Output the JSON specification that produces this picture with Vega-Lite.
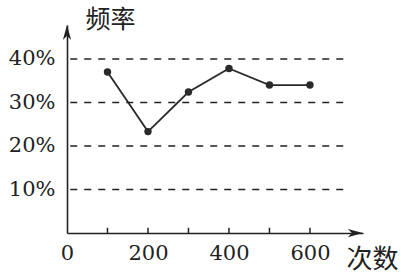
{
  "$schema": "https://vega.github.io/schema/vega-lite/v6.json",
  "width": 296,
  "height": 208,
  "padding": {"left": 67, "top": 25, "right": 38, "bottom": 42},
  "autosize": {"type": "none"},
  "background": "white",
  "config": {"view": {"stroke": null}},
  "datasets": {
    "freq": [
      {"count": 100, "freq": 37},
      {"count": 200, "freq": 23.3},
      {"count": 300, "freq": 32.4},
      {"count": 400, "freq": 37.8},
      {"count": 500, "freq": 34},
      {"count": 600, "freq": 34}
    ],
    "grid": [{"level": 10}, {"level": 20}, {"level": 30}, {"level": 40}],
    "ticks": [{"n": 100}, {"n": 200}, {"n": 300}, {"n": 400}, {"n": 500}, {"n": 600}],
    "one": [{}]
  },
  "layer": [
    {
      "data": {"name": "freq"},
      "mark": {"type": "line", "stroke": "#2a2a2a", "strokeWidth": 1.8, "point": {"filled": true, "fill": "#2a2a2a", "size": 55, "opacity": 1}},
      "encoding": {
        "x": {
          "field": "count", "type": "quantitative",
          "scale": {"domain": [0, 731], "nice": false, "zero": false},
          "axis": {
            "values": [0, 200, 400, 600], "ticks": false, "grid": false,
            "domainColor": "#222", "domainWidth": 1.6,
            "labelFont": "DejaVu Serif", "labelFontSize": 21, "labelColor": "#222",
            "labelPadding": 9, "labelFlush": false, "labelOverlap": false,
            "title": "次数", "titleFont": "Noto Sans CJK SC", "titleFontSize": 26, "titleFontWeight": "normal",
            "titleColor": "#222", "titleX": 305, "titleY": 26, "titleAlign": "center", "titleBaseline": "middle", "titleAnchor": null
          }
        },
        "y": {
          "field": "freq", "type": "quantitative",
          "scale": {"domain": [0, 47.8], "nice": false},
          "axis": {
            "values": [10, 20, 30, 40], "ticks": false, "grid": false,
            "labelExpr": "datum.value + '%'",
            "domainColor": "#222", "domainWidth": 1.6,
            "labelFont": "DejaVu Serif", "labelFontSize": 21, "labelColor": "#222",
            "labelPadding": 12, "labelFlush": false, "labelOverlap": false,
            "title": "频率", "titleFont": "Noto Sans CJK SC", "titleFontSize": 25, "titleFontWeight": "normal",
            "titleColor": "#222", "titleAngle": 0, "titleX": 43, "titleY": -6, "titleAlign": "center", "titleBaseline": "middle", "titleAnchor": null
          }
        }
      }
    },
    {
      "data": {"name": "grid"},
      "mark": {"type": "rule", "stroke": "#222", "strokeWidth": 1.5, "strokeDash": [7, 7]},
      "encoding": {
        "y": {"field": "level", "type": "quantitative"},
        "x": {"datum": 8, "type": "quantitative"},
        "x2": {"datum": 690}
      }
    },
    {
      "data": {"name": "ticks"},
      "mark": {"type": "rule", "stroke": "#222", "strokeWidth": 1.5},
      "encoding": {
        "x": {"field": "n", "type": "quantitative"},
        "y": {"datum": 0, "type": "quantitative"},
        "y2": {"datum": 1.2}
      }
    },
    {
      "data": {"name": "one"},
      "mark": {"type": "point", "filled": true, "fill": "#222", "opacity": 1, "size": 225, "shape": "M1,0 L-1,-0.55 L-0.45,0 L-1,0.55 Z"},
      "encoding": {
        "x": {"datum": 712, "type": "quantitative"},
        "y": {"datum": 0, "type": "quantitative"}
      }
    },
    {
      "data": {"name": "one"},
      "mark": {"type": "point", "filled": true, "fill": "#222", "opacity": 1, "size": 225, "shape": "M0,-1 L-0.55,1 L0,0.45 L0.55,1 Z"},
      "encoding": {
        "x": {"datum": 0, "type": "quantitative"},
        "y": {"datum": 46.1, "type": "quantitative"}
      }
    }
  ]
}
